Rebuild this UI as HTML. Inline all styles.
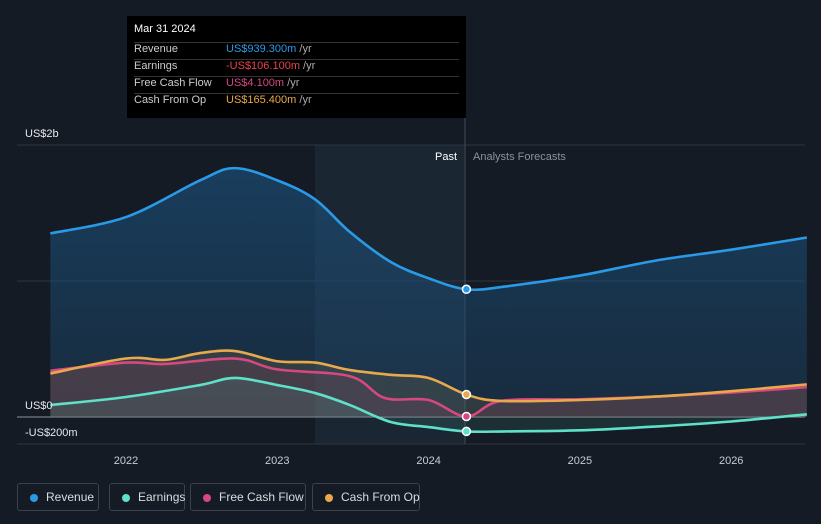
<!DOCTYPE html>
<html><head><meta charset="utf-8"><style>
html,body{margin:0;background:#151b24;width:821px;height:524px;overflow:hidden;font-family:"Liberation Sans",sans-serif;}
svg{position:absolute;left:0;top:0}
.tt{position:absolute;left:127px;top:16px;width:339px;height:102px;background:#000;color:#ccc;font-size:11px}
.tt div{position:absolute;left:7px;white-space:nowrap}
.leg{position:absolute;top:483px;height:28px;border:1px solid #3a4250;border-radius:3px;color:#d8dce2;font-size:12px;line-height:26px;box-sizing:border-box;white-space:nowrap}
.leg i{position:absolute;left:12px;top:10px;width:8px;height:8px;border-radius:50%}
.leg span{position:absolute;left:28px}
</style></head><body>
<svg width="821" height="524" id="chart">
<defs>
<linearGradient id="rg" x1="0" y1="0" x2="0" y2="1"><stop offset="0" stop-color="#1c5a8c" stop-opacity="0.55"/><stop offset="1" stop-color="#1c4a70" stop-opacity="0.35"/></linearGradient>
</defs>
<rect x="315" y="145" width="150" height="299" fill="#1b2633"/>
<g id="grid"></g>
<g id="series"></g>
<g id="labels"></g>
</svg>
<div class="tt">
<div style="top:7px;color:#fff;font-size:11px">Mar 31 2024</div>
<div style="top:26px;width:325px;border-top:1px solid #333"></div>
<div style="top:27px">Revenue</div><div style="top:27px;left:99px;color:#2a9ae6">US$939.300m <span style="color:#aaa">/yr</span></div>
<div style="top:43px;width:325px;border-top:1px solid #333"></div>
<div style="top:44px">Earnings</div><div style="top:44px;left:99px;color:#e8424f">-US$106.100m <span style="color:#aaa">/yr</span></div>
<div style="top:60px;width:325px;border-top:1px solid #333"></div>
<div style="top:61px">Free Cash Flow</div><div style="top:61px;left:99px;color:#d6487e">US$4.100m <span style="color:#aaa">/yr</span></div>
<div style="top:77px;width:325px;border-top:1px solid #333"></div>
<div style="top:78px">Cash From Op</div><div style="top:78px;left:99px;color:#e8a94c">US$165.400m <span style="color:#aaa">/yr</span></div>
</div>
<div class="leg" style="left:17px;width:82px"><i style="background:#2a9ae6"></i><span>Revenue</span></div>
<div class="leg" style="left:109px;width:76px"><i style="background:#5fe0c8"></i><span>Earnings</span></div>
<div class="leg" style="left:190px;width:116px"><i style="background:#d6487e"></i><span>Free Cash Flow</span></div>
<div class="leg" style="left:312px;width:108px"><i style="background:#e8a94c"></i><span>Cash From Op</span></div>
<script>
const revT=[2021.5,2022,2022.49,2022.72,2023,2023.25,2023.48,2023.75,2024,2024.25,2024.51,2025,2025.5,2026,2026.5];
const revV=[1.35,1.47,1.74,1.83,1.74,1.60,1.36,1.14,1.02,0.939,0.96,1.04,1.15,1.23,1.32];
const earnT=[2021.5,2022,2022.49,2022.72,2023,2023.25,2023.48,2023.75,2024,2024.25,2024.51,2025,2025.5,2026,2026.5];
const earnV=[0.088,0.147,0.235,0.287,0.235,0.176,0.088,-0.037,-0.074,-0.106,-0.106,-0.098,-0.07,-0.033,0.02];
const fcfT=[2021.5,2022,2022.26,2022.72,2023,2023.48,2023.71,2024,2024.25,2024.48,2025,2025.5,2026,2026.5];
const fcfV=[0.34,0.40,0.39,0.43,0.35,0.30,0.14,0.125,0.004,0.118,0.13,0.15,0.18,0.22];
const cfoT=[2021.5,2022,2022.26,2022.49,2022.72,2023,2023.25,2023.48,2023.75,2024,2024.25,2024.48,2025,2025.5,2026,2026.5];
const cfoV=[0.32,0.43,0.42,0.47,0.485,0.41,0.40,0.345,0.31,0.287,0.165,0.118,0.125,0.15,0.19,0.24];
const yTicks=[2,1,0];
const yLabels=["US$2b","","US$0"];
const xYears=[2022,2023,2024,2025,2026];
const X=t=>126+(t-2022)*151.3, Y=v=>417-v*136;
const NS="http://www.w3.org/2000/svg";
function mk(tag,attrs,parent){const e=document.createElementNS(NS,tag);for(const k in attrs)e.setAttribute(k,attrs[k]);parent.appendChild(e);return e;}
const grid=document.getElementById('grid'),ser=document.getElementById('series'),lab=document.getElementById('labels');
yTicks.forEach((v,i)=>{const l=mk('line',{x1:17,x2:805,y1:Y(v),y2:Y(v),stroke:v===0?'#8a929c':'#2e3540','stroke-width':1},grid);


if(yLabels[i]){const t=mk('text',{x:25,y:Y(v)-8,fill:'#e6e8eb','font-size':11},lab);t.textContent=yLabels[i];

}});
const neg=mk('text',{x:25,y:436,fill:'#e6e8eb','font-size':11},lab);neg.textContent='-US$200m';


mk('line',{x1:17,x2:805,y1:444,y2:444,stroke:'#2e3540'},grid);
xYears.forEach(y=>{const t=mk('text',{x:X(y),y:464,fill:'#c8ccd2','font-size':11,'text-anchor':'middle'},lab);t.textContent=y;

});
function path(T,V){const P=T.map((t,i)=>[X(t),Y(V[i])]);let d='M'+P[0][0]+','+P[0][1];
for(let i=0;i<P.length-1;i++){const p0=P[Math.max(0,i-1)],p1=P[i],p2=P[i+1],p3=P[Math.min(P.length-1,i+2)];
const c1x=p1[0]+(p2[0]-p0[0])/6,c1y=p1[1]+(p2[1]-p0[1])/6,c2x=p2[0]-(p3[0]-p1[0])/6,c2y=p2[1]-(p3[1]-p1[1])/6;
d+=' C'+c1x+','+c1y+' '+c2x+','+c2y+' '+p2[0]+','+p2[1];}return d;}
function area(T,V,fill,op){const d=path(T,V)+' L'+X(T[T.length-1])+','+Y(0)+' L'+X(T[0])+','+Y(0)+' Z';const a=mk('path',{d:d,fill:fill,'fill-opacity':op},ser);

}
area(revT,revV,'url(#rg)',1);
area(cfoT,cfoV,'#e8a94c',0.12);
area(fcfT,fcfV,'#d6487e',0.12);
area(earnT,earnV,'#5fe0c8',0.1);
const div=mk('line',{x1:465,x2:465,y1:118,y2:444,stroke:'#3a4a5c'},grid);


const p1=mk('text',{x:457,y:160,fill:'#fff','font-size':11,'text-anchor':'end'},lab);p1.textContent='Past';


const p2=mk('text',{x:473,y:160,fill:'#8a929c','font-size':11},lab);p2.textContent='Analysts Forecasts';


[[earnT,earnV,'#5fe0c8','earnings-line'],[fcfT,fcfV,'#d6487e','fcf-line'],[cfoT,cfoV,'#e8a94c','cfo-line'],[revT,revV,'#2a9ae6','revenue-line']].forEach(s=>{
const l=mk('path',{d:path(s[0],s[1]),fill:'none',stroke:s[2],'stroke-width':2.6},ser);


const idx=s[0].indexOf(2024.25);
const c=mk('circle',{cx:X(s[0][idx]),cy:Y(s[1][idx]),r:4,fill:s[2],stroke:'#fff','stroke-width':1.5},ser);

});
</script>
</body></html>
